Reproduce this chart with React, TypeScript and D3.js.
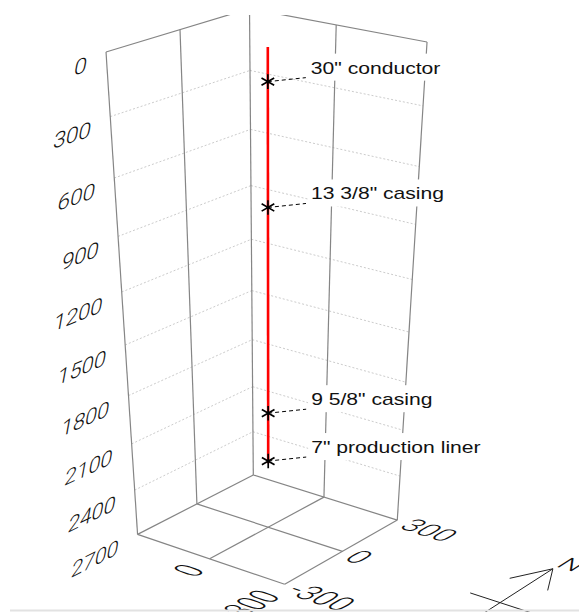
import React from 'react';
import * as d3 from 'd3';

// well path (vertical hole below the wellhead)
const wellEast = [0, 0];
const wellNorth = [0, 0];
const wellDepth = [0, 2270];

// casing shoes
const casingNames = ['30" conductor', '13 3/8" casing', '9 5/8" casing', '7" production liner'];
const casingDepths = [160, 780, 1950, 2255];

// axes
const depthTicks = [0, 300, 600, 900, 1200, 1500, 1800, 2100, 2400, 2700];
const eastTicks = [-300, 0, 300];
const northTicks = [-300, 0, 300];
const eastLabelTicks = [0, 300];
const northLabelTicks = [-300, 0, 300];

const W = 579;
const H = 612;

// projective camera, rows act on (1, u, v, w) in the unit box
const CAM_X = [267.8, 83.48, 79.16, 63.74];
const CAM_Y = [46.96, 16.63, -21.25, 604.52];
const CAM_H = [1, -0.024, 0.032, 0.2358];

const east = d3.scaleLinear().domain([-300, 300]).range([-1, 1]);
const north = d3.scaleLinear().domain([-300, 300]).range([-1, 1]);
const depth = d3.scaleLinear().domain([0, 2700]).range([0, 1]);

type Pt = [number, number];

function proj(u: number, v: number, w: number): Pt {
  const dot = (r: number[]) => r[0] + r[1] * u + r[2] * v + r[3] * w;
  const h = dot(CAM_H);
  return [dot(CAM_X) / h, dot(CAM_Y) / h];
}

const P = (e: number, n: number, d: number) => proj(east(e), north(n), depth(d));

// screen derivative along a box axis (0 east, 1 north, 2 depth), px per unit of the unit box
function jac(e: number, n: number, d: number, axis: number): Pt {
  const eps = 1e-3;
  const c = [east(e), north(n), depth(d)];
  const a = c.slice();
  const b = c.slice();
  a[axis] -= eps;
  b[axis] += eps;
  const pa = proj(a[0], a[1], a[2]);
  const pb = proj(b[0], b[1], b[2]);
  return [(pb[0] - pa[0]) / (2 * eps), (pb[1] - pa[1]) / (2 * eps)];
}

const line = d3.line();
const seg = (a: number[], b: number[]) => line([P(a[0], a[1], a[2]), P(b[0], b[1], b[2])]) as string;

const FRAME = '#858585';
const GRID = '#cccccc';
const AXIS_FONT = 'Roboto, "DejaVu Sans", sans-serif';

export default function App() {
  const bottom = 2700;

  // walls and floor
  const gridLines = depthTicks.slice(1, -1).flatMap((d) => [
    seg([-300, -300, d], [-300, 300, d]),
    seg([-300, 300, d], [300, 300, d]),
  ]);
  const frameLines = [
    ...northTicks.map((n) => seg([-300, n, 0], [-300, n, bottom])),
    ...eastTicks.slice(1).map((e) => seg([e, 300, 0], [e, 300, bottom])),
    seg([-300, -300, 0], [-300, 300, 0]),
    seg([-300, 300, 0], [300, 300, 0]),
    ...eastTicks.map((e) => seg([e, -300, bottom], [e, 300, bottom])),
    ...northTicks.map((n) => seg([-300, n, bottom], [300, n, bottom])),
  ];

  const wellPath = line(wellDepth.map((d, i) => P(wellEast[i], wellNorth[i], d))) as string;
  const star = d3.symbol(d3.symbolAsterisk, 150)() as string;

  // depth labels along the front-left vertical edge
  const depthLabels = depthTicks.map((d) => {
    const [x, y] = P(-300, -300, d);
    const j = jac(-300, -300, d, 1);
    const len = Math.hypot(j[0], j[1]);
    const rx = (j[0] / len) * 1.08;
    const ry = (j[1] / len) * 1.08;
    return {
      d,
      t: `translate(${x - 19},${y + 12}) matrix(${rx},${ry},-0.18,1,0,0)`,
    };
  });

  // labels lying flat on the floor
  const floorMatrix = (e: number, n: number, readAxis: number, upAxis: number, upSign: number) => {
    const [x, y] = P(e, n, bottom);
    const r = jac(e, n, bottom, readAxis);
    const u = jac(e, n, bottom, upAxis);
    const k = 0.82 / 100;
    return `translate(${x},${y}) matrix(${r[0] * k},${r[1] * k},${(-upSign * u[0]) / 100},${(-upSign * u[1]) / 100},0,0)`;
  };

  const northLabels = northLabelTicks.map((n) => ({
    n,
    t: floorMatrix(300 + 36, n, 0, 1, 1),
  }));
  const eastLabels = eastLabelTicks.map((e) => ({
    e,
    t: floorMatrix(e, -300 - 75, 1, 0, -1),
  }));

  // compass on the floor, east of the box
  const cE = 900;
  const compass = [
    seg([cE, -300, bottom], [cE, 300, bottom]),
    seg([cE - 110, 0, bottom], [cE + 110, 0, bottom]),
    line([P(cE - 70, 160, bottom), P(cE, 300, bottom), P(cE + 70, 160, bottom)]) as string,
  ];
  const nT = floorMatrix(cE - 5, 320, 0, 1, 1);

  return (
    <svg
      width={W}
      height={H}
      style={{ position: 'absolute', left: 0, top: 0, background: '#fff' }}
    >
      <defs>
        <clipPath id="view">
          <rect x={0} y={15} width={W} height={H - 15} />
        </clipPath>
      </defs>
      <g clipPath="url(#view)">
        {gridLines.map((d, i) => (
          <path key={`g${i}`} d={d} stroke={GRID} strokeWidth={1} strokeDasharray="2,2" fill="none" />
        ))}
        {frameLines.map((d, i) => (
          <path key={`f${i}`} d={d} stroke={FRAME} strokeWidth={1.2} fill="none" />
        ))}

        {depthLabels.map((l) => (
          <text
            key={`d${l.d}`}
            transform={l.t}
            textAnchor="end"
            dy="0.36em"
            fontFamily={AXIS_FONT}
            fontWeight={300}
            fontSize={22}
            fill="#111"
          >
            {l.d}
          </text>
        ))}
        {northLabels.map((l) => (
          <text
            key={`n${l.n}`}
            transform={l.t}
            textAnchor="start"
            dy="0.36em"
            fontFamily={AXIS_FONT}
            fontWeight={300}
            fontSize={45}
            fill="#111"
          >
            {l.n}
          </text>
        ))}
        {eastLabels.map((l) => (
          <text
            key={`e${l.e}`}
            transform={l.t}
            textAnchor="end"
            dy="0.36em"
            fontFamily={AXIS_FONT}
            fontWeight={300}
            fontSize={45}
            fill="#111"
          >
            {l.e}
          </text>
        ))}

        {compass.map((d, i) => (
          <path key={`c${i}`} d={d} stroke="#222" strokeWidth={1} fill="none" />
        ))}
        <text transform={nT} fontFamily={AXIS_FONT} fontWeight={300} fontSize={40} fill="#111">
          N
        </text>

        <path d={wellPath} stroke="#ff0000" strokeWidth={2.6} fill="none" />

        {casingDepths.map((d, i) => {
          const [mx, my] = P(0, 0, d);
          const tx = mx + 43;
          const ty = my - 8;
          const tw = casingNames[i].length * 9.6;
          return (
            <g key={`c${i}`}>
              <rect x={tx - 3} y={ty - 20} width={tw + 6} height={27} fill="#fff" />
              <path
                d={line([[mx, my], [mx + 38, my - 4]]) as string}
                stroke="#000"
                strokeWidth={1}
                strokeDasharray="4,3"
                fill="none"
              />
              <path d={star} transform={`translate(${mx},${my})`} stroke="#000" strokeWidth={1.7} fill="none" />
              <text
                transform={`translate(${tx},${ty}) scale(1.32,1)`}
                fontFamily='"Liberation Sans", Arial, sans-serif'
                fontSize={16}
                fill="#111"
              >
                {casingNames[i]}
              </text>
            </g>
          );
        })}
      </g>
      <line x1={10} x2={W} y1={610.5} y2={610.5} stroke="#e2e2e2" strokeWidth={2} />
    </svg>
  );
}
